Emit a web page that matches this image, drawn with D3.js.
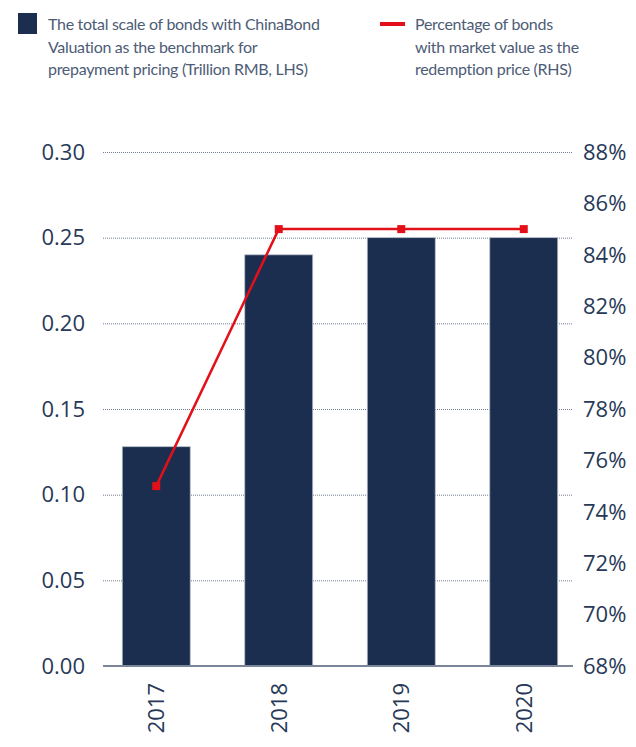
<!DOCTYPE html>
<html>
<head>
<meta charset="utf-8">
<script src="https://cdn.jsdelivr.net/npm/d3@7"></script>
<style>
  html, body { margin: 0; padding: 0; background: #fff; }
  svg { display: block; }
  text { font-family: "Open Sans", "Noto Sans", sans-serif; }
  .legend text { font-family: Lato, "Open Sans", sans-serif; letter-spacing: -0.3px; }
</style>
</head>
<body>
<svg id="chart" width="636" height="747"></svg>
<script>
// Data
const years = ["2017", "2018", "2019", "2020"];
const scaleTrillion = [0.128, 0.24, 0.25, 0.25];      // bars, LHS
const marketValuePct = [75, 85, 85, 85];              // line, RHS (%)
const leftTicks = [0, 0.05, 0.10, 0.15, 0.20, 0.25, 0.30];
const rightTicks = [68, 70, 72, 74, 76, 78, 80, 82, 84, 86, 88];
const legendBar = ["The total scale of bonds with ChinaBond", "Valuation as the benchmark for", "prepayment pricing (Trillion RMB, LHS)"];
const legendLine = ["Percentage of bonds", "with market value as the", "redemption price (RHS)"];

const navy = "#1c2e4f";
const red = "#e3101a";
const textCol = "#273957";
const legendText = "#4d5c76";

const svg = d3.select("#chart");

const plotTop = 152, plotBottom = 666;
const gridLeft = 103, gridRight = 573;

const x = d3.scaleBand().domain(years).range([95, 585]).paddingInner(0.445).paddingOuter(0.2225);
const yL = d3.scaleLinear().domain([0, 0.30]).range([plotBottom, plotTop]);
const yR = d3.scaleLinear().domain([68, 88]).range([plotBottom, plotTop]);

// Gridlines (dotted)
svg.append("g").selectAll("line")
  .data(leftTicks.filter(d => d > 0))
  .join("line")
  .attr("x1", gridLeft).attr("x2", gridRight)
  .attr("y1", d => yL(d) + 0.5).attr("y2", d => yL(d) + 0.5)
  .attr("stroke", "#6f7b91").attr("stroke-width", 1).attr("stroke-dasharray", "1,1");

// Bars
svg.append("g").selectAll("rect")
  .data(years)
  .join("rect")
  .attr("x", d => x(d))
  .attr("width", x.bandwidth())
  .attr("y", (d, i) => yL(scaleTrillion[i]))
  .attr("height", (d, i) => plotBottom - yL(scaleTrillion[i]))
  .attr("fill", navy)
  .attr("stroke", "#b9c0cc").attr("stroke-width", 0.8);

// Baseline
svg.append("line")
  .attr("x1", gridLeft).attr("x2", gridRight)
  .attr("y1", plotBottom).attr("y2", plotBottom)
  .attr("stroke", "#7b869a").attr("stroke-width", 2);

// Left axis labels
svg.append("g").selectAll("text")
  .data(leftTicks)
  .join("text")
  .attr("x", 85).attr("y", d => yL(d))
  .attr("dy", "0.35em")
  .attr("text-anchor", "end")
  .attr("font-size", 22)
  .attr("fill", textCol)
  .text(d => d3.format(".2f")(d));

// Right axis labels
svg.append("g").selectAll("text")
  .data(rightTicks)
  .join("text")
  .attr("x", 583).attr("y", d => yR(d))
  .attr("dy", "0.35em")
  .attr("text-anchor", "start")
  .attr("font-size", 22)
  .attr("fill", textCol)
  .text(d => d + "%");

// Category labels (rotated)
svg.append("g").selectAll("text")
  .data(years)
  .join("text")
  .attr("transform", d => `translate(${x(d) + x.bandwidth() / 2 + 8},683) rotate(-90)`)
  .attr("text-anchor", "end")
  .attr("font-size", 22)
  .attr("fill", textCol)
  .text(d => d);

// Line series (RHS)
const line = d3.line()
  .x((d, i) => x(years[i]) + x.bandwidth() / 2)
  .y(d => yR(d));
svg.append("path")
  .datum(marketValuePct)
  .attr("d", line)
  .attr("fill", "none")
  .attr("stroke", red)
  .attr("stroke-width", 2.5);
svg.append("g").selectAll("rect")
  .data(marketValuePct)
  .join("rect")
  .attr("x", (d, i) => x(years[i]) + x.bandwidth() / 2 - 4)
  .attr("y", d => yR(d) - 4)
  .attr("width", 8).attr("height", 8)
  .attr("fill", red);

// Legend
const lg = svg.append("g").attr("class", "legend");
lg.append("rect").attr("x", 18).attr("y", 13).attr("width", 19).attr("height", 21).attr("fill", navy);
lg.append("g").selectAll("text").data(legendBar).join("text")
  .attr("x", 48).attr("y", (d, i) => 30 + i * 22.5)
  .attr("font-size", 16).attr("fill", legendText).text(d => d);
lg.append("rect").attr("x", 380).attr("y", 22).attr("width", 25).attr("height", 4).attr("fill", red);
lg.append("g").selectAll("text").data(legendLine).join("text")
  .attr("x", 415).attr("y", (d, i) => 30 + i * 22.5)
  .attr("font-size", 16).attr("fill", legendText).text(d => d);
</script>
</body>
</html>
